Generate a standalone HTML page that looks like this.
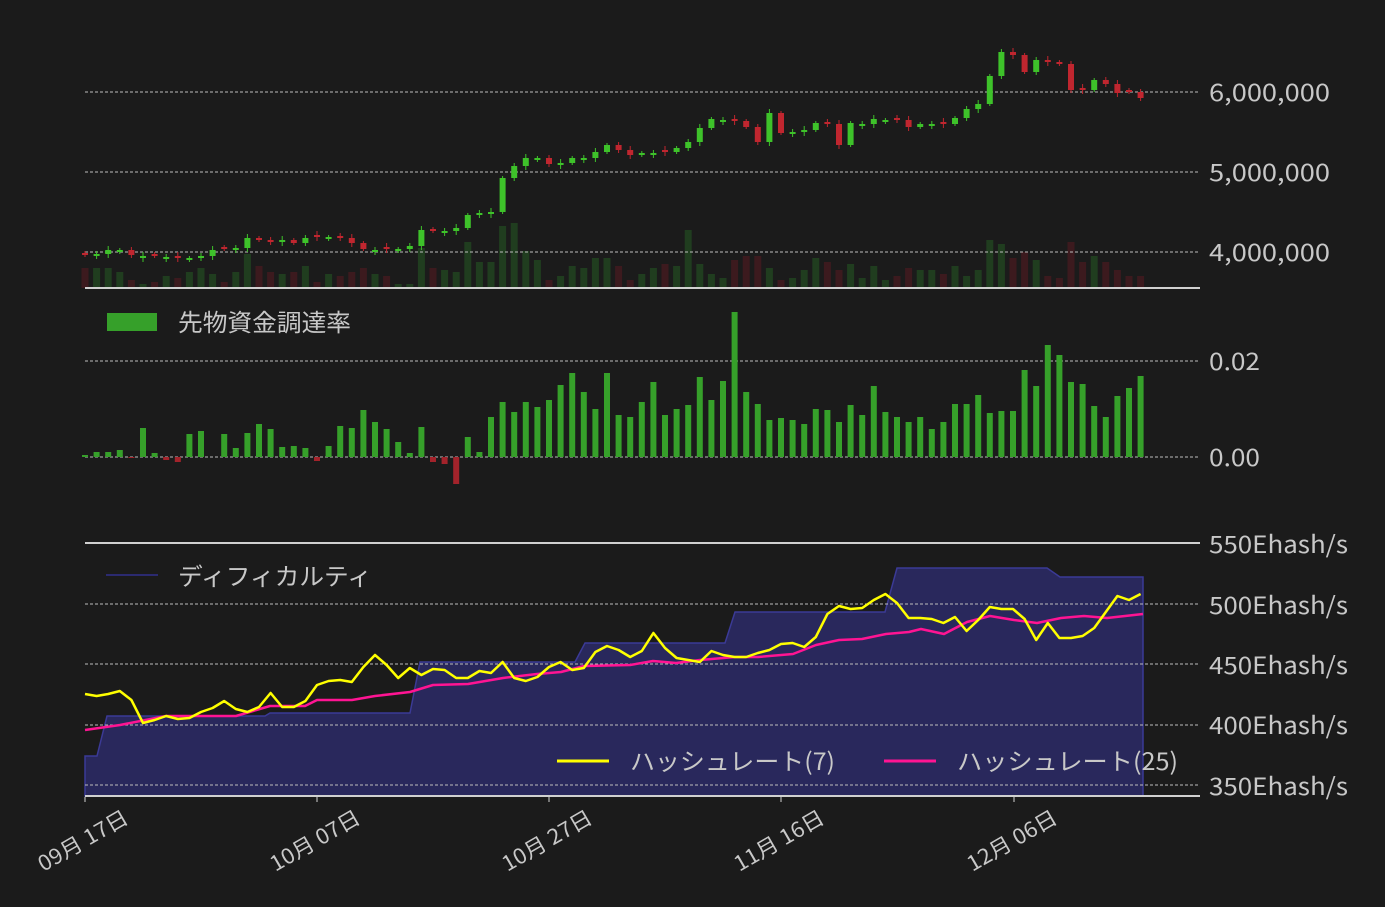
<!DOCTYPE html>
<html><head><meta charset="utf-8"><style>
html,body{margin:0;padding:0;background:#1b1b1b;}
svg{display:block;font-family:"Noto Sans CJK JP","Liberation Sans",sans-serif;}
</style></head><body>
<svg id="c" width="1385" height="907" viewBox="0 0 1385 907" xmlns="http://www.w3.org/2000/svg">
<rect width="1385" height="907" fill="#1b1b1b"/>
<g id="bg"></g>
<g stroke="#bdbdbd" stroke-width="1" stroke-dasharray="3,2">
<line x1="85" y1="92" x2="1200" y2="92"/><line x1="85" y1="172" x2="1200" y2="172"/><line x1="85" y1="252" x2="1200" y2="252"/>
<line x1="85" y1="361" x2="1200" y2="361"/><line x1="85" y1="457" x2="1200" y2="457"/>
<line x1="85" y1="604" x2="1200" y2="604"/><line x1="85" y1="664" x2="1200" y2="664"/><line x1="85" y1="725" x2="1200" y2="725"/><line x1="85" y1="785" x2="1200" y2="785"/>
</g>
<g id="fg"></g>
<g stroke="#d0d0d0" stroke-width="2"><line x1="85" y1="288" x2="1200" y2="288"/><line x1="85" y1="543" x2="1200" y2="543"/><line x1="85" y1="796" x2="1200" y2="796"/></g>
<g stroke="#d0d0d0" stroke-width="1"><line x1="85" y1="797" x2="85" y2="802"/><line x1="317" y1="797" x2="317" y2="802"/><line x1="549" y1="797" x2="549" y2="802"/><line x1="781" y1="797" x2="781" y2="802"/><line x1="1014" y1="797" x2="1014" y2="802"/></g>
<g fill="#c8c8c8" font-size="24" lengthAdjust="spacingAndGlyphs">
<text x="1209" y="101" textLength="121" lengthAdjust="spacingAndGlyphs">6,000,000</text><text x="1209" y="181" textLength="121" lengthAdjust="spacingAndGlyphs">5,000,000</text><text x="1209" y="261" textLength="121" lengthAdjust="spacingAndGlyphs">4,000,000</text>
<text x="1209" y="370" textLength="51" lengthAdjust="spacingAndGlyphs">0.02</text><text x="1209" y="466" textLength="51" lengthAdjust="spacingAndGlyphs">0.00</text>
<text x="1209" y="553" textLength="139" lengthAdjust="spacingAndGlyphs">550Ehash/s</text><text x="1209" y="614" textLength="139" lengthAdjust="spacingAndGlyphs">500Ehash/s</text><text x="1209" y="674" textLength="139" lengthAdjust="spacingAndGlyphs">450Ehash/s</text><text x="1209" y="734" textLength="139" lengthAdjust="spacingAndGlyphs">400Ehash/s</text><text x="1209" y="795" textLength="139" lengthAdjust="spacingAndGlyphs">350Ehash/s</text>
</g>
<g fill="#c8c8c8" font-size="21" text-anchor="end">
<text transform="translate(130,822) rotate(-30)" textLength="100" lengthAdjust="spacingAndGlyphs">09月 17日</text>
<text transform="translate(362,822) rotate(-30)" textLength="100" lengthAdjust="spacingAndGlyphs">10月 07日</text>
<text transform="translate(594,822) rotate(-30)" textLength="100" lengthAdjust="spacingAndGlyphs">10月 27日</text>
<text transform="translate(826,822) rotate(-30)" textLength="100" lengthAdjust="spacingAndGlyphs">11月 16日</text>
<text transform="translate(1059,822) rotate(-30)" textLength="100" lengthAdjust="spacingAndGlyphs">12月 06日</text>
</g>
<rect x="107" y="313" width="50" height="18" fill="#36a02a"/>
<text x="178" y="331" fill="#c8c8c8" font-size="24" textLength="173" lengthAdjust="spacingAndGlyphs">先物資金調達率</text>
<line x1="106" y1="575" x2="158" y2="575" stroke="#2b2a70" stroke-width="2"/>
<text x="178" y="585" fill="#c8c8c8" font-size="24" textLength="194" lengthAdjust="spacingAndGlyphs">ディフィカルティ</text>
<line x1="557" y1="761" x2="609" y2="761" stroke="#ffff00" stroke-width="3"/>
<text x="630" y="770" fill="#c8c8c8" font-size="24" textLength="205" lengthAdjust="spacingAndGlyphs">ハッシュレート(7)</text>
<line x1="884" y1="761" x2="936" y2="761" stroke="#ff1493" stroke-width="3"/>
<text x="957" y="770" fill="#c8c8c8" font-size="24" textLength="221" lengthAdjust="spacingAndGlyphs">ハッシュレート(25)</text>
</svg>
<script>
var NS="http://www.w3.org/2000/svg";
function el(p,t,a){var e=document.createElementNS(NS,t);for(var k in a)e.setAttribute(k,a[k]);p.appendChild(e);return e;}
var bg=document.getElementById('bg'),fg=document.getElementById('fg');
function X(i){return 85+11.6*i;}
var cl=[255,254,250,250,255,256,256,257,258,258,256,250,249,248,238,240,242,240,243,238,237,237,238,243,249,250,249,249,246,230,231,231,228,215,213,212,178,166,158,158,164,163,158,158,152,145,150,155,153,153,152,148,142,128,119,120,121,127,142,113,133,132,130,123,124,145,123,124,119,120,120,127,124,124,124,118,109,104,76,52,55,72,60,62,64,90,90,80,84,93,92,98];
var vol=[20,20,20,16,8,4,6,12,10,16,20,14,6,16,34,22,16,14,16,22,6,14,12,16,20,14,12,4,4,40,20,18,16,46,26,26,62,65,37,28,8,12,22,20,30,30,22,8,14,20,24,22,58,24,14,10,28,32,32,20,8,10,18,30,26,18,24,10,22,8,12,20,18,18,14,22,12,18,48,44,30,36,28,12,10,46,26,32,26,18,12,12];
var open=[];
for(var i=0;i<cl.length;i++){var o=i?cl[i-1]:256;if(Math.abs(o-cl[i])<2)o=cl[i]+(i%2?2:-2);open.push(o);}
for(var i=0;i<cl.length;i++){var up=cl[i]<=open[i];el(bg,'rect',{x:X(i)-3.5,y:288-vol[i],width:7,height:vol[i],fill:up?'#203d1f':'#3c1a1e'});}
for(var i=0;i<cl.length;i++){var up=cl[i]<=open[i],c=up?'#3ec22a':'#c0262f';var t=Math.min(cl[i],open[i]),b=Math.max(cl[i],open[i]);
el(fg,'line',{x1:X(i),x2:X(i),y1:t-2-(i%3),y2:b+2+(i%3),stroke:c,'stroke-width':1});
el(fg,'rect',{x:X(i)-3,y:t,width:6,height:Math.max(2,b-t),fill:c});}
var fr=[2,5,5,7,-1,29,4,-3,-5,23,26,0,23,9,24,33,28,10,11,9,-4,11,31,29,47,35,28,15,4,30,-5,-7,-27,20,5,40,55,45,55,50,57,72,84,65,48,84,42,40,55,75,42,48,52,80,57,76,145,65,53,37,39,37,33,48,47,35,52,42,71,45,40,35,40,28,35,53,53,62,44,46,46,87,71,112,102,75,73,51,40,61,69,81];
for(var i=0;i<fr.length;i++){var v=fr[i];if(!v)continue;el(fg,'rect',{x:X(i)-3,y:v>0?457-v:457,width:6,height:Math.abs(v),fill:v>0?'#36a02a':'#a3232b'});}
var d="M85,796 L85,756 L97,756 L107,716 L265,716 L270,713 L410,713 L420,662 L575,662 L585,643 L725,643 L735,612 L885,612 L897,568 L1047,568 L1060,577 L1143,577 L1143,796 Z";
el(bg,'path',{d:d,fill:'#29285c',stroke:'#3b3a96','stroke-width':1.5});
var yx=[694,696,694,691,700,723,720,716,719,718,712,708,701,709,712,707,693,707,707,701,685,681,680,682,667,655,665,678,668,675,669,670,678,678,671,673,662,678,681,677,667,662,670,668,652,646,650,657,651,633,648,658,660,662,651,655,657,657,653,650,644,643,647,637,614,606,609,608,600,594,603,618,618,619,623,617,631,620,607,609,609,619,640,623,638,638,636,628,612,596,600,594];
var p="";for(var i=0;i<yx.length;i++)p+=(i?'L':'M')+X(i).toFixed(1)+','+yx[i];
var pk=[[85,730],[120,725],[166,716],[213,716],[236,716],[270,706],[305,706],[317,700],[352,700],[375,696],[410,692],[433,685],[468,684],[503,678],[537,674],[561,672],[584,666],[630,665],[653,661],[676,663],[700,660],[735,657],[758,657],[793,654],[816,645],[839,640],[862,639],[886,634],[909,632],[921,629],[944,634],[967,622],[990,616],[1014,620],[1037,623],[1061,618],[1084,616],[1107,618],[1143,614]];
var q="";for(var i=0;i<pk.length;i++)q+=(i?'L':'M')+pk[i][0]+','+pk[i][1];
el(fg,'path',{d:q,fill:'none',stroke:'#ff1493','stroke-width':2.5,'stroke-linejoin':'round'});
el(fg,'path',{d:p,fill:'none',stroke:'#ffff00','stroke-width':2.5,'stroke-linejoin':'round'});
</script>
</body></html>
